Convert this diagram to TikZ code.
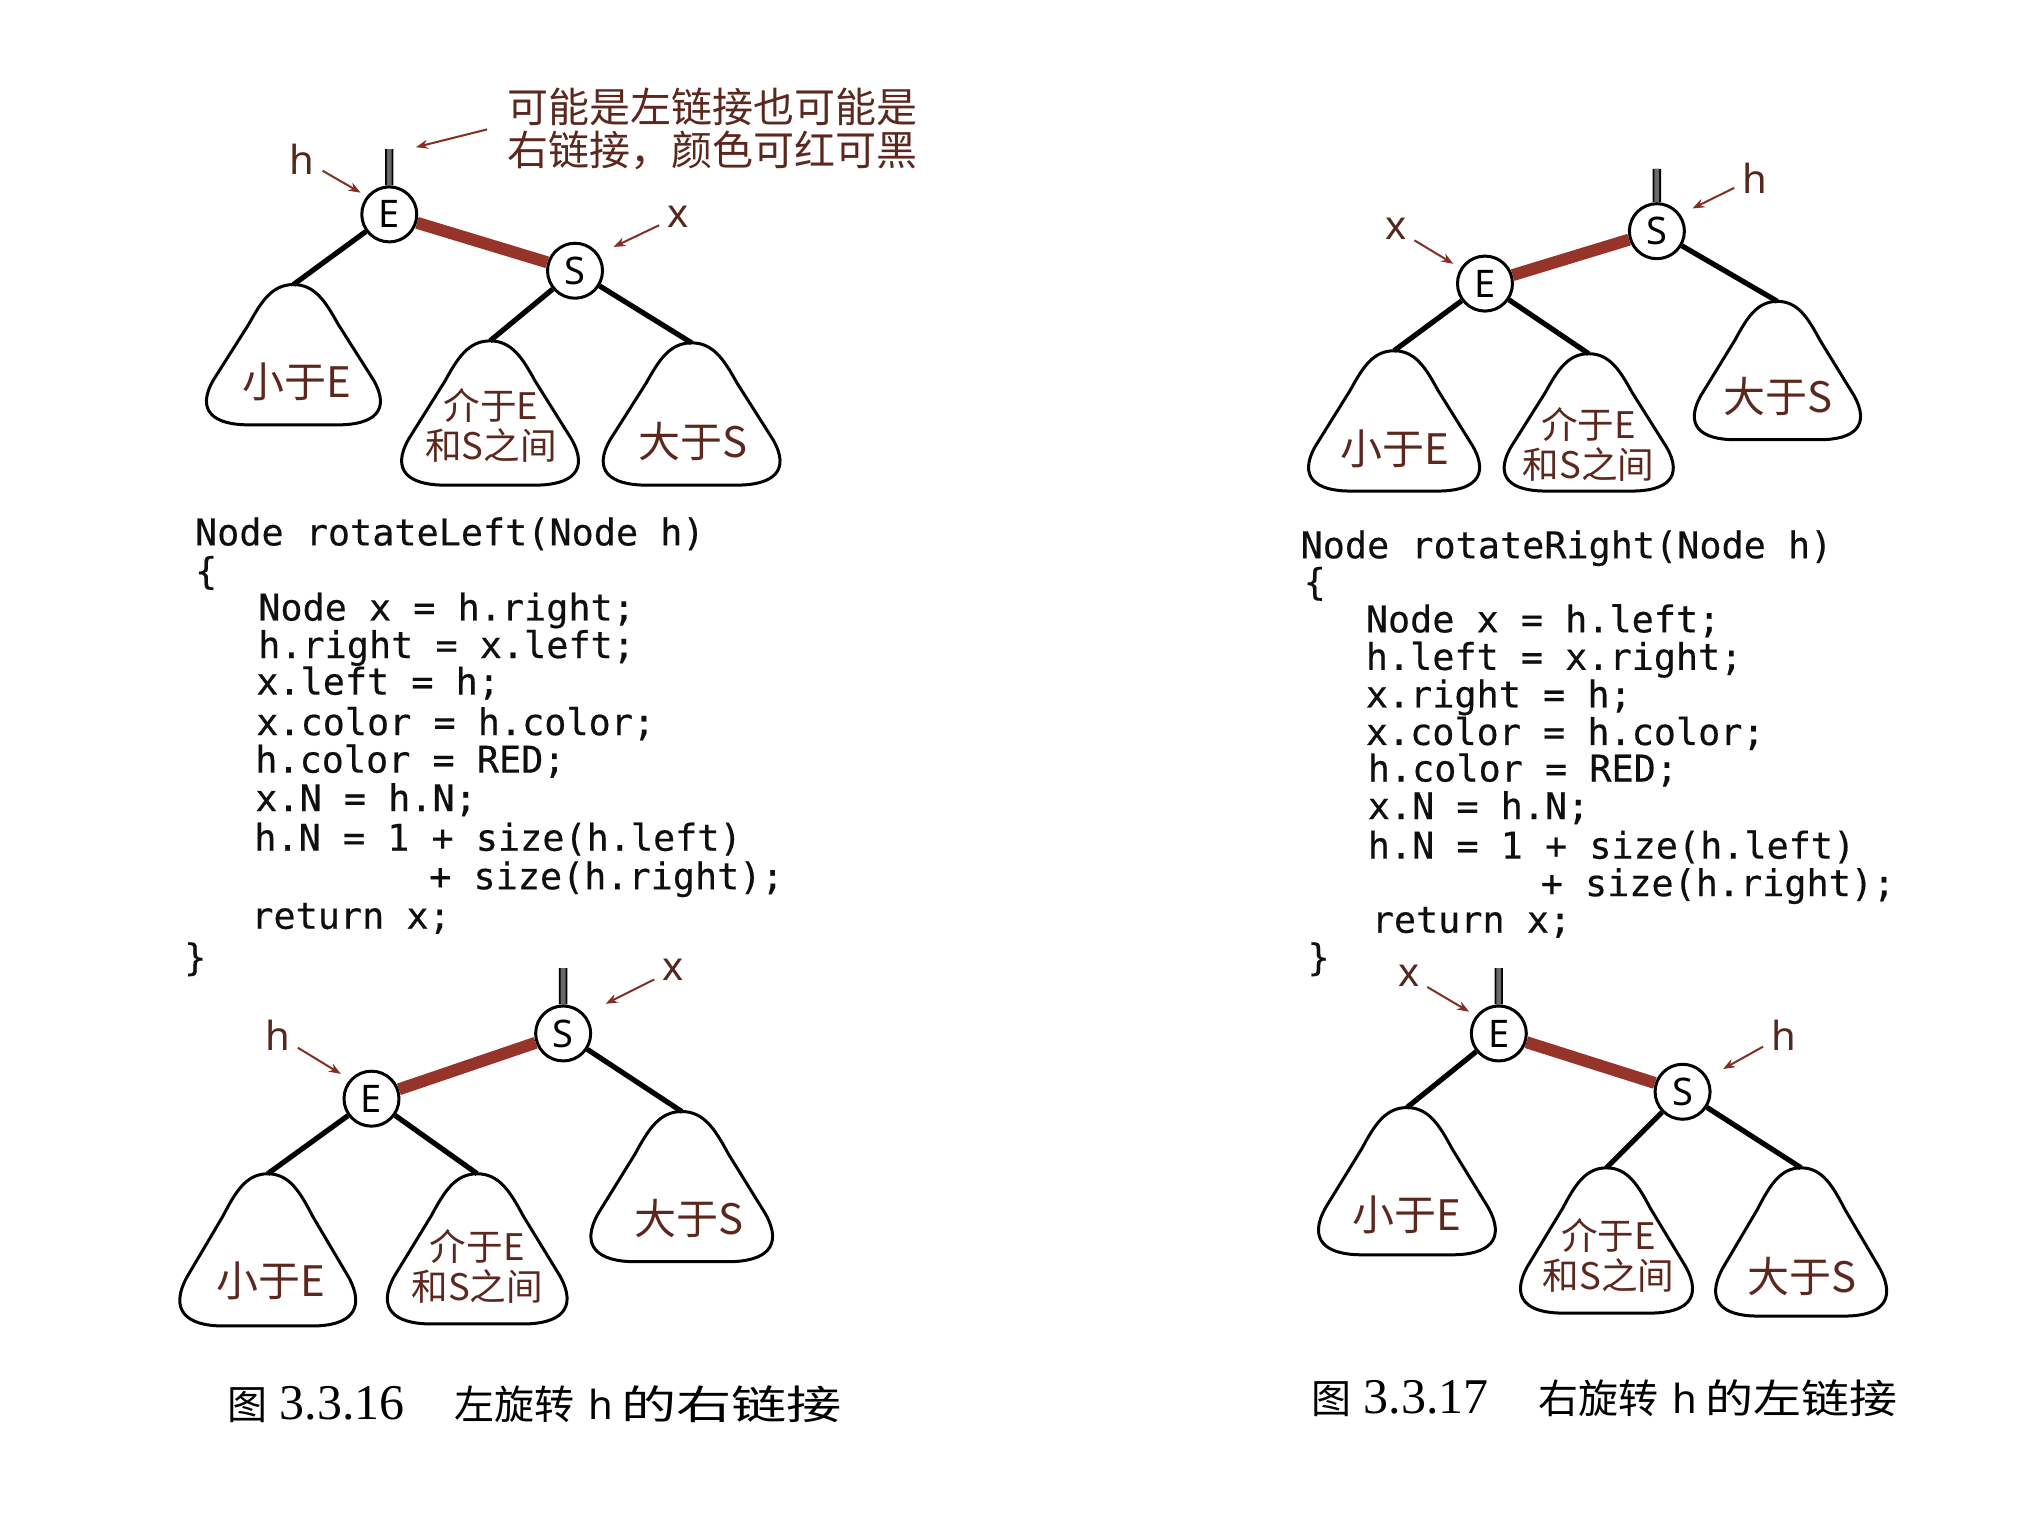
\documentclass[tikz,border=0pt]{standalone}
\usepackage{fontspec}
\setmainfont{Liberation Serif}
\setmonofont[FakeBold=0.4]{DejaVu Sans Mono}
\newfontfamily\cjk{Noto Sans CJK SC}
\newfontfamily\labfont{Noto Sans}
\usetikzlibrary{arrows.meta,calc}
\definecolor{linkred}{RGB}{150,52,42}
\definecolor{txtbrown}{RGB}{92,40,30}
\definecolor{arrbrown}{RGB}{130,48,36}
\definecolor{lblcol}{RGB}{85,40,30}
\definecolor{stubgray}{RGB}{105,105,105}
\definecolor{codeblack}{RGB}{15,15,15}
\tikzset{
  circ/.style={circle, draw=black, line width=1.5pt, fill=white, minimum size=27.5pt, inner sep=0pt, font=\labfont\fontsize{19}{19}\selectfont},
  edge/.style={line width=2.6pt, black},
  redlink/.style={line width=6pt, linkred},
  stub/.style={double=stubgray, double distance=2.4pt, line width=0.9pt, black},
  tri/.style={line width=1.5pt, black},
  sublab/.style={text=txtbrown, font=\cjk\fontsize{21}{21}\selectfont, align=center, inner sep=0pt},
  sublabtwo/.style={text=txtbrown, font=\cjk\fontsize{18.3}{20}\selectfont, align=center, inner sep=0pt},
  ptrlab/.style={text=lblcol, font=\labfont\fontsize{20}{20}\selectfont, inner sep=2pt},
  ptr/.style={arrbrown, line width=1pt, shorten <=2pt, -{Stealth[length=6pt,width=4.5pt]}},
  code/.style={anchor=base west, inner sep=0pt, text=codeblack, font=\ttfamily\fontsize{18.4}{19.5}\selectfont},
  annot/.style={text=txtbrown, font=\cjk\fontsize{20.5}{21.5}\selectfont, align=left, inner sep=0pt},
  captext/.style={anchor=west, inner sep=0pt, font=\fontsize{20}{24}\selectfont},
}
% #1 name, #2 cx, #3 top, #4 width, #5 bottom
\newcommand\subtri[5]{%
  \pgfmathsetmacro\tW{#4}\pgfmathsetmacro\tH{#5-#3}%
  \coordinate (#1) at (#2,#3);
  \draw[tri] (#2,#3)
    .. controls ({#2-0.12*\tW},#3) and ({#2-0.18*\tW},{#3+0.12*\tH}) .. ({#2-0.25*\tW},{#3+0.28*\tH})
    -- ({#2-0.45*\tW},{#3+0.68*\tH})
    .. controls ({#2-0.55*\tW},{#3+0.9*\tH}) and ({#2-0.45*\tW},#5) .. ({#2-0.25*\tW},#5)
    -- ({#2+0.25*\tW},#5)
    .. controls ({#2+0.45*\tW},#5) and ({#2+0.55*\tW},{#3+0.9*\tH}) .. ({#2+0.45*\tW},{#3+0.68*\tH})
    -- ({#2+0.25*\tW},{#3+0.28*\tH})
    .. controls ({#2+0.18*\tW},{#3+0.12*\tH}) and ({#2+0.12*\tW},#3) .. (#2,#3) -- cycle;
}
\newcommand\codeln[4]{\node[code] (#1) at (#2,#3) {#4};}
\begin{document}
\begin{tikzpicture}[x=0.5pt,y=-0.5pt]
\useasboundingbox (0,0) rectangle (2040,1517);
\begin{scope}[scale=0.988]

% ================= Figure A (left top) =================
\subtri{A1}{297}{288}{180}{430}
\subtri{A2}{496}{345}{183}{491}
\subtri{A3}{700}{347}{183}{491}
\node[sublab] (A1t) at (300,386) {小于E};
\node[sublabtwo] (A2t) at (497,431) {介于E\\和S之间};
\node[sublab] (A3t) at (701,447) {大于S};
\node[circ] (Ea) at (394,217) {E};
\node[circ] (Sa) at (582,274) {S};
\coordinate (Ea stub) at (394,151);
\draw[stub] (Ea) -- (Ea stub);
\draw[redlink] (Ea) -- (Sa);
\draw[edge] (Ea) -- (A1);
\draw[edge] (Sa) -- (A2);
\draw[edge] (Sa) -- (A3);
\node[ptrlab] (hA) at (306,161) {h};
\coordinate (hA tip) at (365,195);
\draw[ptr] (hA) -- (hA tip);
\node[ptrlab] (xA) at (686,219) {x};
\coordinate (xA tip) at (621,250);
\draw[ptr] (xA) -- (xA tip);
\node[annot, anchor=west] (annot) at (513,130) {可能是左链接也可能是\\右链接，颜色可红可黑};
\coordinate (annot tip) at (421,149);
\draw[ptr] ([shift={(-16,0)}]annot.west) -- (annot tip);

% ================= Code left =================
\codeln{L1}{197}{552}{Node rotateLeft(Node h)}
\codeln{L2}{197}{591}{\{}
\codeln{L3}{261}{628}{Node x = h.right;}
\codeln{L4}{261}{666}{h.right = x.left;}
\codeln{L5}{259}{703}{x.left = h;}
\codeln{L6}{259}{744}{x.color = h.color;}
\codeln{L7}{258}{782}{h.color = RED;}
\codeln{L8}{258}{821}{x.N = h.N;}
\codeln{L9}{257}{861}{h.N = 1 + size(h.left)}
\codeln{L10}{434}{900}{+ size(h.right);}
\codeln{L11}{254}{940}{return x;}
\codeln{L12}{186}{982}{\}}

% ================= Figure B (left bottom) =================
\subtri{B1}{271}{1188}{182}{1342}
\subtri{B2}{483}{1188}{186}{1340}
\subtri{B3}{690}{1125}{188}{1277}
\node[sublab] (B1t) at (274,1296) {小于E};
\node[sublabtwo] (B2t) at (483,1282) {介于E\\和S之间};
\node[sublab] (B3t) at (697,1233) {大于S};
\node[circ] (Sb) at (570,1046) {S};
\node[circ] (Eb) at (376,1112) {E};
\coordinate (Sb stub) at (570,980);
\draw[stub] (Sb) -- (Sb stub);
\draw[redlink] (Eb) -- (Sb);
\draw[edge] (Eb) -- (B1);
\draw[edge] (Eb) -- (B2);
\draw[edge] (Sb) -- (B3);
\node[ptrlab] (xB) at (681,982) {x};
\coordinate (xB tip) at (613,1016);
\draw[ptr] (xB) -- (xB tip);
\node[ptrlab] (hB) at (281,1048) {h};
\coordinate (hB tip) at (345,1087);
\draw[ptr] (hB) -- (hB tip);

% ================= Figure C (right top) =================
\subtri{C1}{1411}{355}{177}{497}
\subtri{C2}{1608}{358}{175}{497}
\subtri{C3}{1799}{305}{172}{445}
\node[sublab] (C1t) at (1412,454) {小于E};
\node[sublabtwo] (C2t) at (1608,450) {介于E\\和S之间};
\node[sublab] (C3t) at (1800,401) {大于S};
\node[circ] (Sc) at (1677,234) {S};
\node[circ] (Ec) at (1503,287) {E};
\coordinate (Sc stub) at (1677,171);
\draw[stub] (Sc) -- (Sc stub);
\draw[redlink] (Ec) -- (Sc);
\draw[edge] (Ec) -- (C1);
\draw[edge] (Ec) -- (C2);
\draw[edge] (Sc) -- (C3);
\node[ptrlab] (hC) at (1776,180) {h};
\coordinate (hC tip) at (1713,211);
\draw[ptr] (hC) -- (hC tip);
\node[ptrlab] (xC) at (1413,232) {x};
\coordinate (xC tip) at (1471,267);
\draw[ptr] (xC) -- (xC tip);

% ================= Code right =================
\codeln{R1}{1316}{565}{Node rotateRight(Node h)}
\codeln{R2}{1319}{602}{\{}
\codeln{R3}{1382}{640}{Node x = h.left;}
\codeln{R4}{1382}{678}{h.left = x.right;}
\codeln{R5}{1382}{716}{x.right = h;}
\codeln{R6}{1382}{754}{x.color = h.color;}
\codeln{R7}{1384}{791}{h.color = RED;}
\codeln{R8}{1384}{829}{x.N = h.N;}
\codeln{R9}{1384}{869}{h.N = 1 + size(h.left)}
\codeln{R10}{1559}{907}{+ size(h.right);}
\codeln{R11}{1388}{944}{return x;}
\codeln{R12}{1323}{982}{\}}

% ================= Figure D (right bottom) =================
\subtri{D1}{1424}{1121}{183}{1270}
\subtri{D2}{1626}{1182}{178}{1329}
\subtri{D3}{1823}{1182}{177}{1332}
\node[sublab] (D1t) at (1424,1230) {小于E};
\node[sublabtwo] (D2t) at (1628,1271) {介于E\\和S之间};
\node[sublab] (D3t) at (1824,1292) {大于S};
\node[circ] (Ed) at (1517,1046) {E};
\node[circ] (Sd) at (1703,1105) {S};
\coordinate (Ed stub) at (1517,980);
\draw[stub] (Ed) -- (Ed stub);
\draw[redlink] (Ed) -- (Sd);
\draw[edge] (Ed) -- (D1);
\draw[edge] (Sd) -- (D2);
\draw[edge] (Sd) -- (D3);
\node[ptrlab] (xD) at (1426,988) {x};
\coordinate (xD tip) at (1487,1024);
\draw[ptr] (xD) -- (xD tip);
\node[ptrlab] (hD) at (1805,1048) {h};
\coordinate (hD tip) at (1744,1082);
\draw[ptr] (hD) -- (hD tip);

% ================= Captions =================
\node[captext] (cap1) at (230,1421) {{\cjk 图}\hspace{6pt}{\fontsize{25}{25}\selectfont 3.3.16}\hspace{25pt}{\cjk 左旋转}\hspace{7pt}{\labfont h}\hspace{4pt}\scalebox{1.38}[1]{\cjk 的右链接}};
\node[captext] (cap2) at (1327,1415) {{\cjk 图}\hspace{6pt}{\fontsize{25}{25}\selectfont 3.3.17}\hspace{25pt}{\cjk 右旋转}\hspace{7pt}{\labfont h}\hspace{4pt}\scalebox{1.2}[1]{\cjk 的左链接}};
\end{scope}
\end{tikzpicture}
\end{document}
